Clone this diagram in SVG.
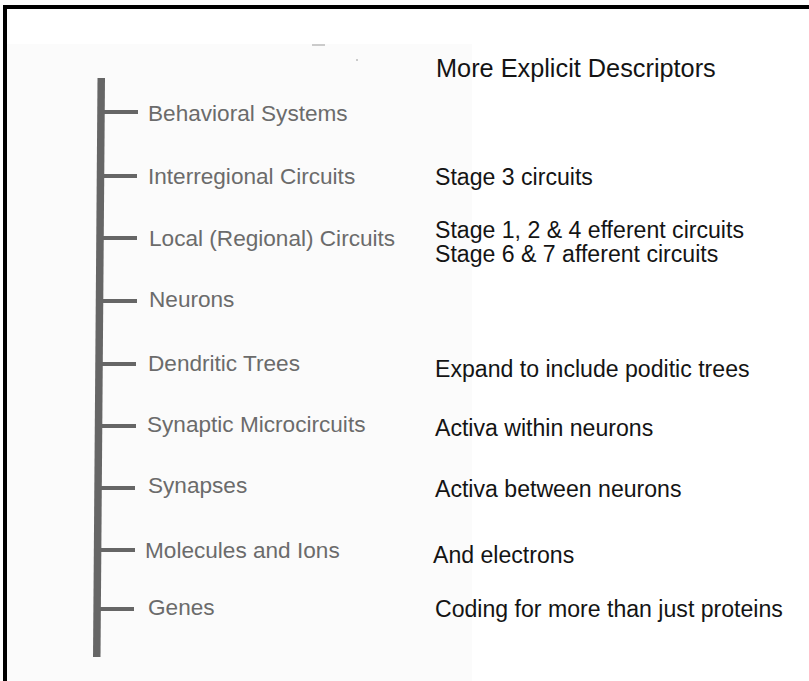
<svg xmlns="http://www.w3.org/2000/svg" width="809" height="681" viewBox="0 0 809 681">
  <style>
    .lvl { font-family: "Liberation Sans", Arial, Helvetica, sans-serif; font-size: 22.6px; fill: #6b6b6b; }
    .desc { font-family: "Liberation Sans", Arial, Helvetica, sans-serif; font-size: 23.1px; fill: #141414; }
    .title { font-family: "Liberation Sans", Arial, Helvetica, sans-serif; font-size: 25.3px; fill: #141414; }
    .tick { stroke: #666; stroke-width: 4; stroke-linecap: butt; }
  </style>
  <rect x="0" y="0" width="809" height="681" fill="#ffffff"/>
  <!-- scanned panel background -->
  <rect x="7" y="44" width="465" height="637" fill="#fbfbfb"/>
  <!-- frame -->
  <path d="M5 681 V7 H809" fill="none" stroke="#000" stroke-width="4"/>

  <!-- stray marks of the scan -->
  <line x1="312" y1="45" x2="325" y2="45" stroke="#bbb" stroke-width="1.5"/>
  <circle cx="357" cy="60" r="1" fill="#bbb"/>

  <text class="title" x="436" y="77">More Explicit Descriptors</text>

  <!-- hierarchy spine and level ticks -->
  <g id="connectors">
    <polygon points="97.5,78 105,78 100.5,657 93,657" fill="#666"/>
    <line class="tick" x1="101" y1="112" x2="138" y2="112"/>
    <line class="tick" x1="101" y1="176" x2="137" y2="176"/>
    <line class="tick" x1="100" y1="238" x2="137" y2="238"/>
    <line class="tick" x1="100" y1="301" x2="137" y2="301"/>
    <line class="tick" x1="99" y1="364" x2="136" y2="364"/>
    <line class="tick" x1="99" y1="426" x2="136" y2="426"/>
    <line class="tick" x1="98" y1="488" x2="135" y2="488"/>
    <line class="tick" x1="98" y1="550" x2="135" y2="550"/>
    <line class="tick" x1="97" y1="609" x2="134" y2="609"/>
  </g>

  <g id="behavioral-systems">
    <text class="lvl" x="148" y="121">Behavioral Systems</text>
  </g>
  <g id="interregional-circuits">
    <text class="lvl" x="148" y="184">Interregional Circuits</text>
    <text class="desc" x="435" y="185">Stage 3 circuits</text>
  </g>
  <g id="local-circuits">
    <text class="lvl" x="149" y="246">Local (Regional) Circuits</text>
    <text class="desc" x="435" y="238">Stage 1, 2 &amp; 4 efferent circuits</text>
    <text class="desc" x="435" y="262">Stage 6 &amp; 7 afferent circuits</text>
  </g>
  <g id="neurons">
    <text class="lvl" x="149" y="307">Neurons</text>
  </g>
  <g id="dendritic-trees">
    <text class="lvl" x="148" y="371">Dendritic Trees</text>
    <text class="desc" x="435" y="377">Expand to include poditic trees</text>
  </g>
  <g id="synaptic-microcircuits">
    <text class="lvl" x="147" y="432">Synaptic Microcircuits</text>
    <text class="desc" x="435" y="436">Activa within neurons</text>
  </g>
  <g id="synapses">
    <text class="lvl" x="148" y="493">Synapses</text>
    <text class="desc" x="435" y="497">Activa between neurons</text>
  </g>
  <g id="molecules-ions">
    <text class="lvl" x="145" y="558">Molecules and Ions</text>
    <text class="desc" x="433" y="563">And electrons</text>
  </g>
  <g id="genes">
    <text class="lvl" x="148" y="615">Genes</text>
    <text class="desc" x="435" y="617">Coding for more than just proteins</text>
  </g>
</svg>
